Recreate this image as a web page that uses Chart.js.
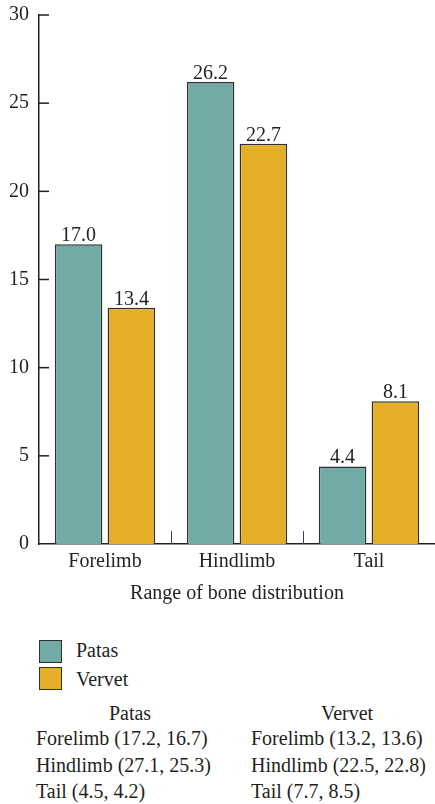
<!DOCTYPE html>
<html>
<head>
<meta charset="utf-8">
<script src="https://cdn.jsdelivr.net/npm/chart.js@4.4.1/dist/chart.umd.min.js"></script>
<style>
  body { margin: 0; background: #fff; }
  #wrap { position: relative; width: 435px; height: 804px; font-family: "Liberation Serif", "Times New Roman", serif; font-size: 20px; line-height: 24px; color: #231f20; }
  #chart { position: absolute; left: 0; top: 0; }
  .t { position: absolute; white-space: nowrap; }
  .sw { position: absolute; width: 23px; height: 23px; box-sizing: border-box; border: 1.5px solid #2f2f2f; }
</style>
</head>
<body>
<div id="wrap">
  <canvas id="chart" width="435" height="620"></canvas>
  <div id="legend"></div>
  <div id="table"></div>
</div>
<script>
// ========================== DATA =============================

const categories = ["Forelimb", "Hindlimb", "Tail"];
const patasValues = [17.0, 26.2, 4.4];
const vervetValues = [13.4, 22.7, 8.1];
const yTicks = [0, 5, 10, 15, 20, 25, 30];

// ranges shown in the table under the chart
const patasRanges = [[17.2, 16.7], [27.1, 25.3], [4.5, 4.2]];
const vervetRanges = [[13.2, 13.6], [22.5, 22.8], [7.7, 8.5]];

const seriesNames = ["Patas", "Vervet"];
const seriesColors = ["#72aaa5", "#e5ae27"];

const ink = "#231f20";
const serif = "'Liberation Serif', 'Times New Roman', serif";

// ========================== PLUGINS =============================

// inward tick marks on y axis + category separators on x axis
const tickMarks = {
  id: "tickMarks",
  afterDraw(chart) {
    const { ctx, chartArea, scales } = chart;
    const x = scales.x, y = scales.y;
    ctx.save();
    ctx.strokeStyle = ink;
    ctx.lineWidth = 1.5;
    yTicks.forEach((v) => {
      if (v === 0) return;
      const py = y.getPixelForValue(v);
      ctx.beginPath();
      ctx.moveTo(chartArea.left, py);
      ctx.lineTo(chartArea.left + 10, py);
      ctx.stroke();
    });
    ctx.strokeStyle = "#444";
    ctx.lineWidth = 1;
    for (let i = 1; i < categories.length; i++) {
      const px = Math.round((x.getPixelForTick(i - 1) + x.getPixelForTick(i)) / 2) + 0.5;
      ctx.beginPath();
      ctx.moveTo(px, chartArea.bottom - 13);
      ctx.lineTo(px, chartArea.bottom);
      ctx.stroke();
    }
    ctx.restore();
  },
};

// values above bars
const valueLabels = {
  id: "valueLabels",
  afterDatasetsDraw(chart) {
    const ctx = chart.ctx;
    ctx.save();
    ctx.font = "20px " + serif;
    ctx.fillStyle = ink;
    ctx.textAlign = "center";
    ctx.textBaseline = "alphabetic";
    chart.data.datasets.forEach((ds, di) => {
      chart.getDatasetMeta(di).data.forEach((bar, i) => {
        ctx.fillText(ds.data[i].toFixed(1), bar.x, bar.y - 3);
      });
    });
    ctx.restore();
  },
};

// ========================== CHART =============================

new Chart(document.getElementById("chart").getContext("2d"), {
  type: "bar",
  data: {
    labels: categories,
    datasets: [
      { label: seriesNames[0], data: patasValues, backgroundColor: seriesColors[0], borderColor: "#2f2f2f", borderWidth: 1.5 },
      { label: seriesNames[1], data: vervetValues, backgroundColor: seriesColors[1], borderColor: "#2f2f2f", borderWidth: 1.5 },
    ],
  },
  options: {
    responsive: false,
    animation: false,
    devicePixelRatio: 1,
    layout: { padding: { top: 15, left: 0, right: 0, bottom: 0 } },
    plugins: { legend: { display: false }, tooltip: { enabled: false } },
    scales: {
      x: {
        grid: { display: false, drawTicks: false },
        border: { display: true, color: ink, width: 1.5 },
        ticks: { font: { family: serif, size: 20 }, color: ink, padding: 6 },
        title: { display: true, text: "Range of bone distribution", font: { family: serif, size: 20 }, color: ink, padding: { top: 0, bottom: 14 } },
        afterFit: (s) => { s.height = 76; },
      },
      y: {
        min: 0,
        max: 30,
        grid: { display: false, drawTicks: false },
        border: { display: true, color: ink, width: 1.5 },
        ticks: { stepSize: 5, font: { family: serif, size: 20 }, color: ink, padding: 10 },
        afterFit: (s) => {
          s.width = 39;
          s.paddingTop = 0;
          s.paddingBottom = 0;
        },
      },
    },
  },
  plugins: [tickMarks, valueLabels],
});

// ========================== LEGEND + TABLE =============================

const legend = document.getElementById("legend");
seriesNames.forEach((name, i) => {
  const sw = document.createElement("div");
  sw.className = "sw";
  sw.style.left = "39px";
  sw.style.top = 639.5 + i * 27.5 + "px";
  sw.style.background = seriesColors[i];
  legend.appendChild(sw);
  const t = document.createElement("div");
  t.className = "t";
  t.style.left = "76px";
  t.style.top = 638 + i * 29 + "px";
  t.textContent = name;
  legend.appendChild(t);
});

const table = document.getElementById("table");
const colLeft = [36, 251];
const colHead = [130, 347];
[patasRanges, vervetRanges].forEach((ranges, c) => {
  const h = document.createElement("div");
  h.className = "t";
  h.style.left = colHead[c] + "px";
  h.style.top = "701px";
  h.style.transform = "translateX(-50%)";
  h.textContent = seriesNames[c];
  table.appendChild(h);
  ranges.forEach((r, i) => {
    const row = document.createElement("div");
    row.className = "t";
    row.style.left = colLeft[c] + "px";
    row.style.top = 726 + i * 26.6 + "px";
    row.textContent = `${categories[i]} (${r[0].toFixed(1)}, ${r[1].toFixed(1)})`;
    table.appendChild(row);
  });
});
</script>
</body>
</html>
